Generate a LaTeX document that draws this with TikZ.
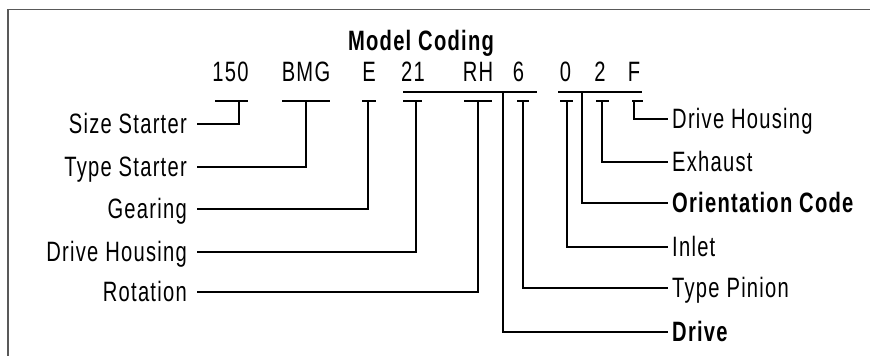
\documentclass[tikz,border=0pt]{standalone}
\usepackage{fontspec}
\setmainfont{Liberation Sans}[FakeStretch=0.72, LetterSpace=4.5]
\begin{document}
\begin{tikzpicture}[x=1pt,y=-1pt,
  codetxt/.style={anchor=base, inner sep=0pt, font=\fontsize{28}{32}\selectfont},
  titletxt/.style={anchor=base, inner sep=0pt, font=\bfseries\fontsize{28}{32}\selectfont},
  lbl/.style={inner sep=0pt, text height=19.5pt, text depth=0pt, font=\fontsize{28}{32}\selectfont},
  lbll/.style={lbl, anchor=east, xshift=-10pt},
  lblr/.style={lbl, anchor=west, xshift=4pt},
  boldlbl/.style={font=\bfseries\fontsize{28}{32}\selectfont},
  conn/.style={line width=1.7pt, black},
  ttop/.style={line width=1.4pt, black},
  bar/.style={line width=2.4pt, black},
  frame/.style={line width=1.4pt, black!65}]
\useasboundingbox (0,0) rectangle (870,356);
% frame
\draw[frame] (8,356) -- (8,9.5) -- (870,9.5);
% title and codes
\node[titletxt] (title) at (421,50) {Model Coding};
\node[codetxt] (c150) at (230.5,81) {150};
\node[codetxt] (cBMG) at (306,81) {BMG};
\node[codetxt] (cE) at (369,81) {E};
\node[codetxt] (c21) at (413,81) {21};
\node[codetxt] (cRH) at (478,81) {RH};
\node[codetxt] (c6) at (518.5,81) {6};
\node[codetxt] (c0) at (565.5,81) {0};
\node[codetxt] (c2) at (600,81) {2};
\node[codetxt] (cF) at (634,81) {F};
% bars
\coordinate (barA1) at (403,92); \coordinate (barA2) at (537,92);
\coordinate (barB1) at (558,92); \coordinate (barB2) at (642,92);
\draw[bar] (barA1) -- (barA2);
\draw[bar] (barB1) -- (barB2);
% T tops
\draw[ttop] (215,101) -- (248,101);
\draw[ttop] (282,101) -- (330,101);
\draw[ttop] (362,101) -- (376,101);
\draw[ttop] (403,101) -- (422,101);
\draw[ttop] (464,101) -- (492,101);
\draw[ttop] (517,101) -- (529,101);
\draw[ttop] (560,101) -- (573,101);
\draw[ttop] (596,101) -- (609,101);
\draw[ttop] (632,101) -- (643,101);
% T stems
\coordinate (s150) at (239,101);
\coordinate (sBMG) at (306,101);
\coordinate (sE) at (368,101);
\coordinate (s21) at (416,101);
\coordinate (sRH) at (478,101);
\coordinate (sDrive) at (503,92);
\coordinate (s6) at (523,101);
\coordinate (s0) at (567,101);
\coordinate (sOri) at (582,92);
\coordinate (s2) at (602,101);
\coordinate (sF) at (634,101);
% left line ends
\coordinate (eSize) at (197,124);
\coordinate (eType) at (197,167);
\coordinate (eGear) at (197,209);
\coordinate (eDH) at (197,252);
\coordinate (eRot) at (197,292);
% right line ends
\coordinate (eRDH) at (668,119);
\coordinate (eExh) at (668,162);
\coordinate (eOri) at (668,203);
\coordinate (eInl) at (668,247);
\coordinate (eTP) at (668,288);
\coordinate (eDrv) at (668,332);
% left labels
\node[lbll] (lSize) at (eSize) {Size Starter};
\node[lbll] (lType) at (eType) {Type Starter};
\node[lbll] (lGear) at (eGear) {Gearing};
\node[lbll] (lDH) at (eDH) {Drive Housing};
\node[lbll] (lRot) at (eRot) {Rotation};
% right labels
\node[lblr] (rDH) at (eRDH) {Drive Housing};
\node[lblr] (rExh) at (eExh) {Exhaust};
\node[lblr, boldlbl] (rOri) at (eOri) {Orientation Code};
\node[lblr] (rInl) at (eInl) {Inlet};
\node[lblr] (rTP) at (eTP) {Type Pinion};
\node[lblr, boldlbl] (rDrv) at (eDrv) {Drive};
% connectors
\draw[conn] (s150) |- (eSize);
\draw[conn] (sBMG) |- (eType);
\draw[conn] (sE) |- (eGear);
\draw[conn] (s21) |- (eDH);
\draw[conn] (sRH) |- (eRot);
\draw[conn] (sF) |- (eRDH);
\draw[conn] (s2) |- (eExh);
\draw[conn] (sOri) |- (eOri);
\draw[conn] (s0) |- (eInl);
\draw[conn] (s6) |- (eTP);
\draw[conn] (sDrive) |- (eDrv);
\end{tikzpicture}
\end{document}
